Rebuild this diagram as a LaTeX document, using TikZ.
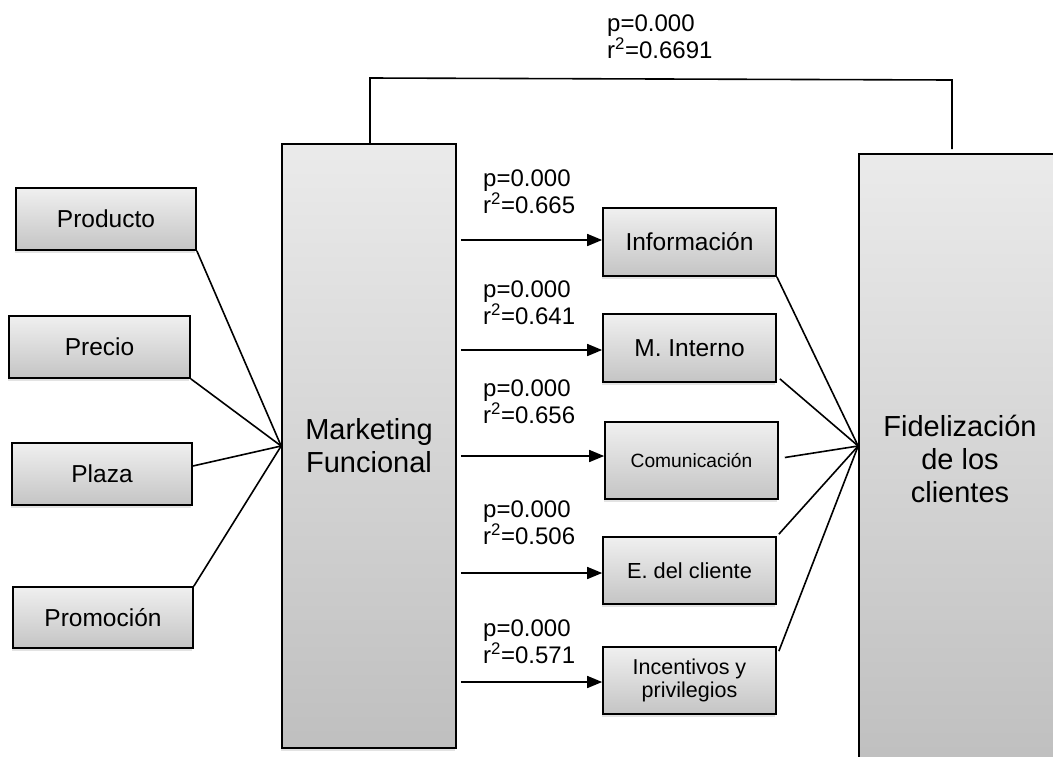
\documentclass[tikz,border=0pt]{standalone}
\usepackage{fontspec}
\setmainfont{Liberation Sans}
\usetikzlibrary{arrows.meta,shadows,calc}
\begin{document}
\begin{tikzpicture}[x=1pt,y=-1pt,
  box/.style={draw=black, line width=1.7pt, top color=gray!12, bottom color=gray!46,
    drop shadow={shadow xshift=-1pt, shadow yshift=-3pt, opacity=0.22},
    inner sep=0pt, align=center, font=\fontsize{24.5}{28}\selectfont},
  big/.style={box, top color=gray!16, bottom color=gray!50, font=\fontsize{29}{33}\selectfont},
  conn/.style={line width=1.6pt},
  arr/.style={conn, -{Triangle[length=15pt,width=12pt]}},
  lab/.style={anchor=north west, inner sep=0pt, align=left, font=\fontsize{24}{26.5}\selectfont}]
\useasboundingbox (0,0) rectangle (1053,756);
\clip (0,0) rectangle (1053,756);
\fill[white] (0,0) rectangle (1053,756);

% left boxes
\node[box, minimum width=180pt, minimum height=62pt] (prod) at (106,219) {Producto};
\node[box, minimum width=181pt, minimum height=62pt] (prec) at (99.5,347) {Precio};
\node[box, minimum width=180pt, minimum height=62pt] (plaza) at (102,474) {Plaza};
\node[box, minimum width=180pt, minimum height=61pt] (promo) at (103,617.5) {Promoción};

% big boxes
\node[big, minimum width=174pt, minimum height=604pt] (mf) at (369,446) {Marketing\\Funcional};
\node[big, minimum width=202pt, minimum height=610pt] (fid) at (960,459) {Fidelización\\de los\\clientes};

% middle boxes
\node[box, minimum width=173pt, minimum height=68pt] (info) at (689.5,242) {Información};
\node[box, minimum width=173pt, minimum height=68pt] (mint) at (689.5,348) {M. Interno};
\node[box, minimum width=173pt, minimum height=77pt, font=\fontsize{19.2}{22}\selectfont] (com) at (691.5,460.5) {Comunicación};
\node[box, minimum width=173pt, minimum height=67pt, font=\fontsize{21.8}{24}\selectfont] (ecl) at (689.5,570.5) {E. del cliente};
\node[box, minimum width=173pt, minimum height=67pt, font=\fontsize{21.5}{23}\selectfont] (inc) at (689.5,680.5) {Incentivos y\\privilegios};

% labels
\node[lab] (l0) at (607,15) {p=0.000\\r\textsuperscript{2}=0.6691};
\node[lab] (l1) at (483,170) {p=0.000\\r\textsuperscript{2}=0.665};
\node[lab] (l2) at (483,281) {p=0.000\\r\textsuperscript{2}=0.641};
\node[lab] (l3) at (483,380) {p=0.000\\r\textsuperscript{2}=0.656};
\node[lab] (l4) at (483,501) {p=0.000\\r\textsuperscript{2}=0.506};
\node[lab] (l5) at (483,620) {p=0.000\\r\textsuperscript{2}=0.571};

% left converging lines
\draw[conn] (prod.south east) -- (mf.west);
\draw[conn] (prec.south east) -- (mf.west);
\draw[conn] ($(plaza.east)+(0,-8)$) -- (mf.west);
\draw[conn] (promo.north east) -- (mf.west);

% right converging lines
\coordinate (fc) at (fid.west |- mf.west);
\draw[conn] (info.south east) -- (fc);
\draw[conn] ($(mint.south east)+(3,-4)$) -- (fc);
\draw[conn] ($(com.east)+(6,-3)$) -- (fc);
\draw[conn] ($(ecl.north east)+(2,-2)$) -- (fc);
\draw[conn] ($(inc.north east)+(2,5)$) -- (fc);

% arrows
\draw[arr] ($(mf.east |- 0,240)+(4,0)$) -- (info.west |- 0,240);
\draw[arr] ($(mf.east |- 0,350)+(4,0)$) -- (mint.west |- 0,350);
\draw[arr] ($(mf.east |- 0,456)+(4,0)$) -- (com.west |- 0,456);
\draw[arr] ($(mf.east |- 0,573)+(4,0)$) -- (ecl.west |- 0,573);
\draw[arr] ($(mf.east |- 0,682)+(4,0)$) -- (inc.west |- 0,682);

% top connector
\coordinate (t1) at (370,78);
\coordinate (t2) at (952,80);
\draw[conn] (mf.north -| t1) -- (t1) -- (t2) -- ($(fid.north -| t2)+(0,-4)$);
\end{tikzpicture}
\end{document}
